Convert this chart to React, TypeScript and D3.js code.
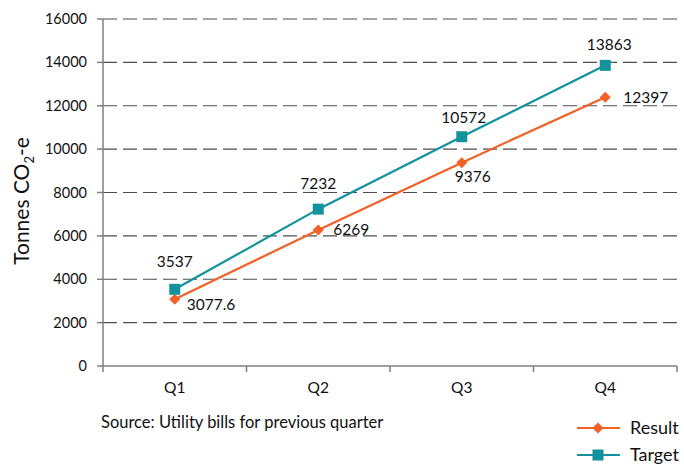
import React from "react";
import * as d3 from "d3";

const categories = ["Q1", "Q2", "Q3", "Q4"];
const resultValues = [3077.6, 6269, 9376, 12397];
const targetValues = [3537, 7232, 10572, 13863];
const resultLabels = ["3077.6", "6269", "9376", "12397"];
const targetLabels = ["3537", "7232", "10572", "13863"];
const yTicks = [0, 2000, 4000, 6000, 8000, 10000, 12000, 14000, 16000];

const W = 684, H = 464;
const left = 103, right = 677, top = 19, bottom = 366;
const ORANGE = "#f26126";
const TEAL = "#12929c";
const FONT = "Lato, 'Open Sans', sans-serif";

// label offsets (dx, dy, anchor) relative to point
const targetOff: [number, number, string][] = [[0, -22, "middle"], [0, -20, "middle"], [2, -14, "middle"], [4, -15, "middle"]];
const resultOff: [number, number, string][] = [[12, 11, "start"], [15, 5, "start"], [-7, 19, "start"], [18, 6, "start"]];

export default function App() {
  const x = d3.scaleBand().domain(categories).range([left, right]);
  const y = d3.scaleLinear().domain([0, 16000]).range([bottom, top]);
  const cx = (c: string) => (x(c) as number) + x.bandwidth() / 2;
  const line = d3.line<number>().x((_, i) => cx(categories[i])).y((v) => y(v));
  const diamond = (px: number, py: number, r = 5.5) => `M${px},${py - r}L${px + r},${py}L${px},${py + r}L${px - r},${py}Z`;

  return (
    <svg width={W} height={H} style={{ position: "absolute", left: 0, top: 0, fontFamily: FONT }}>
      <rect width={W} height={H} fill="#fff" />
      {yTicks.map((t) => (
        <g key={t}>
          {t > 0 && (
            <line x1={left} x2={right} y1={y(t)} y2={y(t)} stroke="#4d4d4d" strokeWidth={1.2} strokeDasharray="14,6" />
          )}
          <line x1={left - 6} x2={left} y1={y(t)} y2={y(t)} stroke="#7f7f7f" strokeWidth={1.5} />
          <text x={87} y={y(t) + 5} textAnchor="end" fontSize={14.5} fill="#111">{t}</text>
        </g>
      ))}
      <line x1={left} x2={left} y1={top} y2={bottom} stroke="#7f7f7f" strokeWidth={1.5} />
      <line x1={left} x2={right} y1={bottom} y2={bottom} stroke="#7f7f7f" strokeWidth={1.5} />
      {categories.map((c) => (
        <g key={c}>
          <line x1={x(c) as number} x2={x(c) as number} y1={bottom} y2={bottom + 6} stroke="#7f7f7f" strokeWidth={1.5} />
          <text x={cx(c)} y={393} textAnchor="middle" fontSize={15.5} fill="#111">{c}</text>
        </g>
      ))}
      <line x1={right} x2={right} y1={bottom} y2={bottom + 6} stroke="#7f7f7f" strokeWidth={1.5} />
      <text transform={`translate(29,201) rotate(-90)`} textAnchor="middle" fontSize={21} fill="#111">
        Tonnes CO<tspan fontSize={13} dy={5}>2</tspan><tspan dy={-5}>-e</tspan>
      </text>
      <path d={line(resultValues) || ""} fill="none" stroke={ORANGE} strokeWidth={2.2} />
      <path d={line(targetValues) || ""} fill="none" stroke={TEAL} strokeWidth={2.2} />
      {resultValues.map((v, i) => (
        <path key={"r" + i} d={diamond(cx(categories[i]), y(v))} fill={ORANGE} />
      ))}
      {targetValues.map((v, i) => (
        <rect key={"t" + i} x={cx(categories[i]) - 5.5} y={y(v) - 5.5} width={11} height={11} fill={TEAL} />
      ))}
      {targetValues.map((v, i) => (
        <text key={"tl" + i} x={cx(categories[i]) + targetOff[i][0]} y={y(v) + targetOff[i][1]} textAnchor={targetOff[i][2] as any} fontSize={15.5} fill="#111">{targetLabels[i]}</text>
      ))}
      {resultValues.map((v, i) => (
        <text key={"rl" + i} x={cx(categories[i]) + resultOff[i][0]} y={y(v) + resultOff[i][1]} textAnchor={resultOff[i][2] as any} fontSize={15.5} fill="#111">{resultLabels[i]}</text>
      ))}
      <text x={101} y={428} fontSize={16.5} fill="#111">Source: Utility bills for previous quarter</text>
      <g>
        <line x1={577} x2={620} y1={428} y2={428} stroke={ORANGE} strokeWidth={2.2} />
        <path d={diamond(598, 428)} fill={ORANGE} />
        <text x={630} y={434} fontSize={18} fill="#111">Result</text>
        <line x1={577} x2={620} y1={455} y2={455} stroke={TEAL} strokeWidth={2.2} />
        <rect x={592.5} y={449.5} width={11} height={11} fill={TEAL} />
        <text x={630} y={461} fontSize={18} fill="#111">Target</text>
      </g>
    </svg>
  );
}
